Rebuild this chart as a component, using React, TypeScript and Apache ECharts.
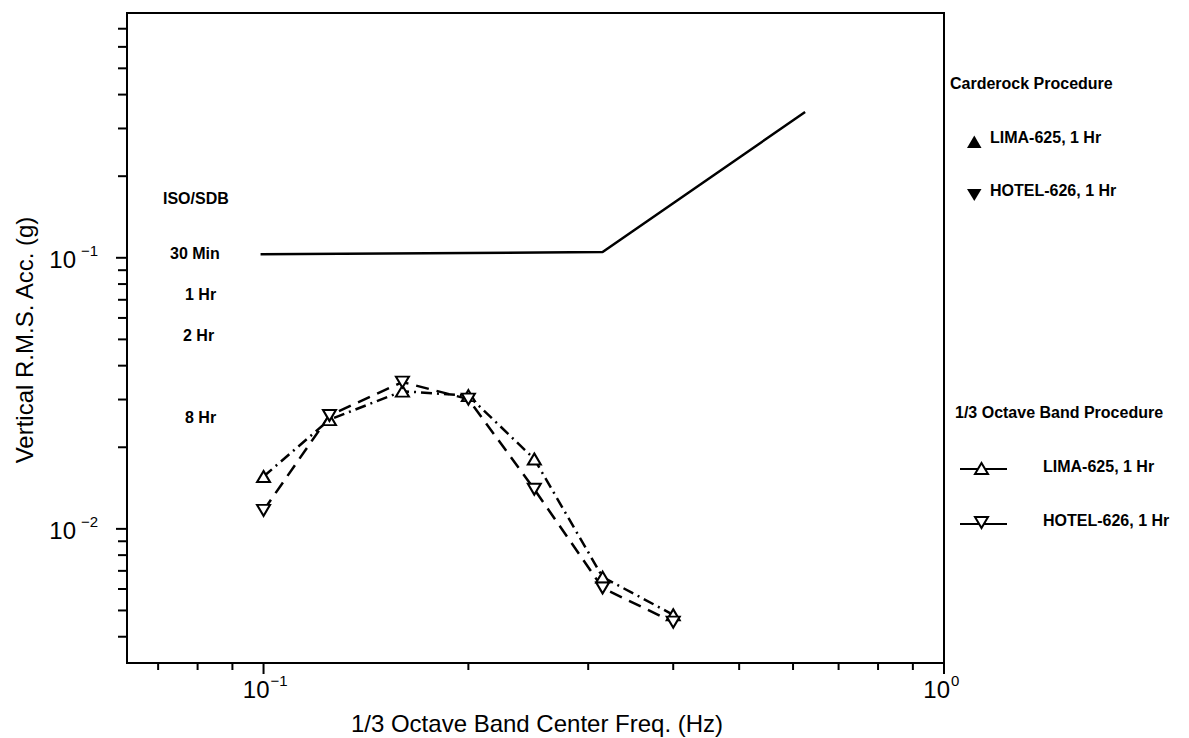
import React, { useEffect, useRef } from "react";
import * as echarts from "echarts";

// 1/3 octave band centre frequencies (Hz)
const freqs = [0.1, 0.125, 0.16, 0.2, 0.25, 0.315, 0.4];
// 1/3 Octave Band Procedure, LIMA-625, 1 Hr (up triangles, dash-dot)
const limaValues = [0.0156, 0.0253, 0.0322, 0.031, 0.0181, 0.00664, 0.00482];
// 1/3 Octave Band Procedure, HOTEL-626, 1 Hr (down triangles, dashed)
const hotelValues = [0.0117, 0.0262, 0.0348, 0.0301, 0.014, 0.00605, 0.00453];
// ISO/SDB 30 Min boundary
const isoFreqs = [0.099, 0.315, 0.625];
const isoValues = [0.103, 0.105, 0.345];

const X_MIN = 0.063;
const X_MAX = 1;
const Y_MIN = 0.0032;
const Y_MAX = 0.8;

const xMinorTicks = [0.07, 0.08, 0.09, 0.2, 0.3, 0.4, 0.5, 0.6, 0.7, 0.8, 0.9];
const xMajorTicks = [0.1, 1];
const xMajorExponents = ["\u22121", "0"];
const yMinorTicks = [
  0.004, 0.005, 0.006, 0.007, 0.008, 0.009,
  0.02, 0.03, 0.04, 0.05, 0.06, 0.07, 0.08, 0.09,
  0.2, 0.3, 0.4, 0.5, 0.6, 0.7,
];
const yMajorTicks = [0.01, 0.1];
const yMajorExponents = ["\u22122", "\u22121"];

const isoLabels = ["ISO/SDB", "30 Min", "1 Hr", "2 Hr", "8 Hr"];
const isoLabelPos = [
  [163, 198],
  [170, 253],
  [185, 294],
  [183, 335],
  [185, 417],
];

const FONT = '"Liberation Sans", Arial, Helvetica, sans-serif';
const BOLD16 = `bold 16px ${FONT}`;

function txt(x: number, y: number, text: string, font: string, align = "left", extra: any = {}) {
  return {
    type: "text",
    x,
    y,
    ...extra,
    style: {
      text,
      font,
      fill: "#000",
      align,
      textAlign: align,
      verticalAlign: "middle",
      textVerticalAlign: "middle",
    },
  };
}

export default function App() {
  const ref = useRef<HTMLDivElement>(null);

  useEffect(() => {
    if (!ref.current) return;
    const chart = echarts.init(ref.current, undefined, { renderer: "svg" });

    const renderTicks = (params: any, api: any) => {
      const cs = params.coordSys;
      const left = cs.x;
      const bottom = cs.y + cs.height;
      const children: any[] = [];
      const ls = { stroke: "#000", lineWidth: 2 };
      xMinorTicks.forEach((v) => {
        const px = api.coord([v, Y_MIN])[0];
        children.push({ type: "line", shape: { x1: px, y1: bottom, x2: px, y2: bottom + 7 }, style: ls });
      });
      xMajorTicks.forEach((v, i) => {
        const px = api.coord([v, Y_MIN])[0];
        children.push({ type: "line", shape: { x1: px, y1: bottom, x2: px, y2: bottom + 11 }, style: ls });
        children.push(txt(px + 6, bottom + 26, "10", `24px ${FONT}`, "right"));
        children.push(txt(px + 7, bottom + 17, xMajorExponents[i], `15px ${FONT}`, "left"));
      });
      yMinorTicks.forEach((v) => {
        const py = api.coord([X_MIN, v])[1];
        children.push({ type: "line", shape: { x1: left - 9, y1: py, x2: left, y2: py }, style: ls });
      });
      yMajorTicks.forEach((v, i) => {
        const py = api.coord([X_MIN, v])[1];
        children.push({ type: "line", shape: { x1: left - 11, y1: py, x2: left, y2: py }, style: ls });
        children.push(txt(left - 29, py - 7, yMajorExponents[i], `15px ${FONT}`, "right"));
        children.push(txt(left - 51, py + 2, "10", `24px ${FONT}`, "right"));
      });
      return { type: "group", children };
    };

    const graphics: any[] = [];
    isoLabels.forEach((t, i) => graphics.push(txt(isoLabelPos[i][0], isoLabelPos[i][1], t, BOLD16)));
    graphics.push(txt(24, 340, "Vertical R.M.S. Acc. (g)", `24px ${FONT}`, "center", { rotation: Math.PI / 2 }));
    graphics.push(txt(537, 723, "1/3 Octave Band Center Freq. (Hz)", `24px ${FONT}`, "center"));
    // Carderock legend
    graphics.push(txt(950, 83, "Carderock Procedure", BOLD16));
    graphics.push({
      type: "polygon",
      shape: { points: [[967, 148], [981.5, 148], [974.3, 135.5]] },
      style: { fill: "#000" },
    });
    graphics.push(txt(990, 137, "LIMA-625, 1 Hr", BOLD16));
    graphics.push({
      type: "polygon",
      shape: { points: [[967, 189], [981.5, 189], [974.3, 201]] },
      style: { fill: "#000" },
    });
    graphics.push(txt(990, 190, "HOTEL-626, 1 Hr", BOLD16));
    // 1/3 octave legend
    graphics.push(txt(955, 412, "1/3 Octave Band Procedure", BOLD16));
    graphics.push({ type: "line", shape: { x1: 960, y1: 469, x2: 1007, y2: 469 }, style: { stroke: "#000", lineWidth: 2 } });
    graphics.push({
      type: "polygon",
      shape: { points: [[975, 474], [988, 474], [981.5, 463]] },
      style: { fill: "#fff", stroke: "#000", lineWidth: 2 },
    });
    graphics.push(txt(1043, 466, "LIMA-625, 1 Hr", BOLD16));
    graphics.push({ type: "line", shape: { x1: 960, y1: 524, x2: 1007, y2: 524 }, style: { stroke: "#000", lineWidth: 2 } });
    graphics.push({
      type: "polygon",
      shape: { points: [[975, 517], [988, 517], [981.5, 528]] },
      style: { fill: "#fff", stroke: "#000", lineWidth: 2 },
    });
    graphics.push(txt(1043, 520, "HOTEL-626, 1 Hr", BOLD16));

    const hidden = {
      axisLine: { show: false },
      axisTick: { show: false },
      axisLabel: { show: false },
      splitLine: { show: false },
    };

    chart.setOption({
      animation: false,
      backgroundColor: "#fff",
      grid: {
        left: 127,
        right: 245,
        top: 13,
        bottom: 75,
        show: true,
        borderColor: "#000",
        borderWidth: 2,
        backgroundColor: "transparent",
      },
      xAxis: { type: "log", logBase: 10, min: X_MIN, max: X_MAX, ...hidden },
      yAxis: { type: "log", logBase: 10, min: Y_MIN, max: Y_MAX, ...hidden },
      graphic: { elements: graphics },
      series: [
        {
          type: "custom",
          coordinateSystem: "cartesian2d",
          data: [[0.1, 0.1]],
          silent: true,
          clip: false,
          renderItem: renderTicks,
          z: 5,
        },
        {
          name: "ISO/SDB 30 Min",
          type: "line",
          data: isoFreqs.map((f, i) => [f, isoValues[i]]),
          showSymbol: false,
          symbol: "none",
          lineStyle: { color: "#000", width: 2.5, type: "solid" },
          z: 3,
        },
        {
          name: "LIMA-625, 1 Hr",
          type: "line",
          data: freqs.map((f, i) => [f, limaValues[i]]),
          symbol: "triangle",
          symbolSize: [13, 11],
          itemStyle: { color: "#fff", borderColor: "#000", borderWidth: 2 },
          lineStyle: { color: "#000", width: 2.5, type: [11, 5, 2, 5] },
          z: 4,
        },
        {
          name: "HOTEL-626, 1 Hr",
          type: "line",
          data: freqs.map((f, i) => [f, hotelValues[i]]),
          symbol: "triangle",
          symbolRotate: 180,
          symbolSize: [13, 11],
          itemStyle: { color: "#fff", borderColor: "#000", borderWidth: 2 },
          lineStyle: { color: "#000", width: 2.5, type: [13, 8] },
          z: 4,
        },
      ],
    });

    return () => chart.dispose();
  }, []);

  return (
    <div
      ref={ref}
      style={{ position: "fixed", left: 0, top: 0, width: 1189, height: 738, background: "#fff" }}
    />
  );
}
